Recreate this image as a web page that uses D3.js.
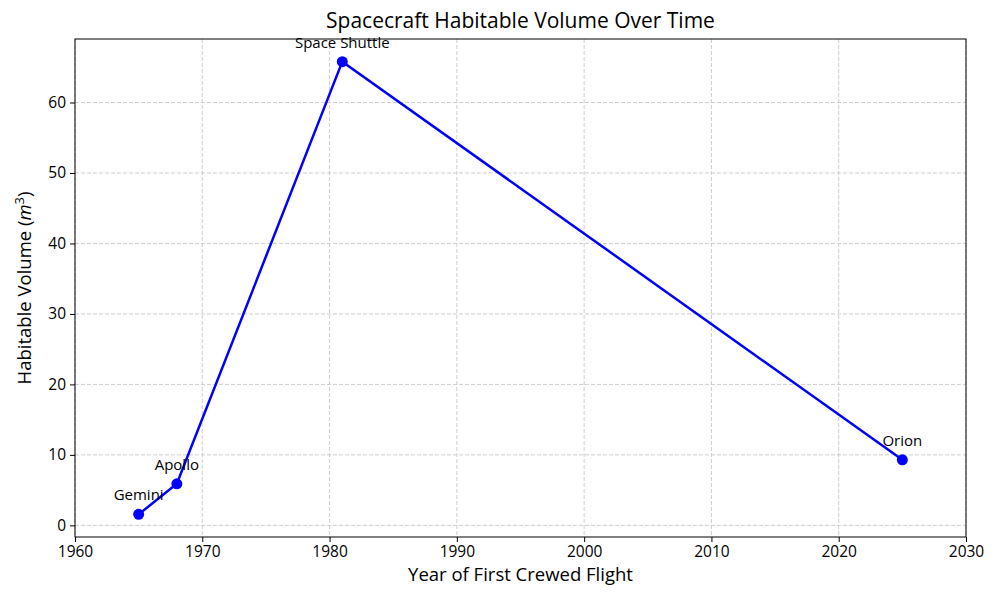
<!DOCTYPE html>
<html>
<head>
<meta charset="utf-8">
<script src="https://cdn.jsdelivr.net/npm/d3@7"></script>
<style>
  body { margin: 0; background: #fff; }
  text { font-family: 'Open Sans', sans-serif; fill: #000; }
</style>
</head>
<body>
<script>
var craft = ['Gemini', 'Apollo', 'Space Shuttle', 'Orion']
var years = [1965, 1968, 1981, 2025]
var volumes = [1.56, 5.9, 65.8, 9.3]
var xTicks = [1960, 1970, 1980, 1990, 2000, 2010, 2020, 2030]
var yTicks = [0, 10, 20, 30, 40, 50, 60]

var width = 1000
var height = 600
var margin = {left: 75, right: 34, top: 39, bottom: 63}

var data = craft.map(function (d, i) {
	return {name: d, year: years[i], vol: volumes[i]}
})

var svg = d3.select('body').append('svg')
    .attr('width', width)
    .attr('height', height)

var x = d3.scaleLinear()
    .domain([1960, 2030])
    .range([margin.left, width - margin.right])

var yMin = d3.min(volumes), yMax = d3.max(volumes)
var pad = (yMax - yMin) * 0.05
var y = d3.scaleLinear()
    .domain([yMin - pad, yMax + pad])
    .range([height - margin.bottom, margin.top])

// grid
svg.append('g').selectAll('line')
    .data(xTicks)
  .enter().append('line')
    .attr('x1', function (d) {return x(d)})
    .attr('x2', function (d) {return x(d)})
    .attr('y1', margin.top)
    .attr('y2', height - margin.bottom)
    .style('stroke', '#c8c8c8')
    .style('stroke-width', 0.9)
    .style('stroke-dasharray', '4,2')

svg.append('g').selectAll('line')
    .data(yTicks)
  .enter().append('line')
    .attr('x1', margin.left)
    .attr('x2', width - margin.right)
    .attr('y1', function (d) {return y(d)})
    .attr('y2', function (d) {return y(d)})
    .style('stroke', '#c8c8c8')
    .style('stroke-width', 0.9)
    .style('stroke-dasharray', '4,2')

// axes
var xAxis = svg.append('g')
    .attr('transform', 'translate(0,' + (height - margin.bottom) + ')')
    .call(d3.axisBottom(x).tickValues(xTicks).tickFormat(d3.format('d')).tickSize(5).tickPadding(4))
var yAxis = svg.append('g')
    .attr('transform', 'translate(' + margin.left + ',0)')
    .call(d3.axisLeft(y).tickValues(yTicks).tickSize(5).tickPadding(4))

;[xAxis, yAxis].forEach(function (g) {
	g.select('.domain').remove()
	g.selectAll('line').style('stroke', '#000').style('stroke-width', 1)
	g.selectAll('text').style('font-size', '15.5px').style('font-family', "'Open Sans', sans-serif")
})

svg.append('rect')
    .attr('x', margin.left)
    .attr('y', margin.top)
    .attr('width', width - margin.left - margin.right)
    .attr('height', height - margin.top - margin.bottom)
    .style('fill', 'none')
    .style('stroke', '#000')
    .style('stroke-width', 1)

// line and points
var line = d3.line()
    .x(function (d) {return x(d.year)})
    .y(function (d) {return y(d.vol)})

svg.append('path')
    .datum(data)
    .attr('d', line)
    .style('fill', 'none')
    .style('stroke', '#0000ff')
    .style('stroke-width', 2.5)

svg.selectAll('circle')
    .data(data)
  .enter().append('circle')
    .attr('cx', function (d) {return x(d.year)})
    .attr('cy', function (d) {return y(d.vol)})
    .attr('r', 5.5)
    .style('fill', '#0000ff')

svg.selectAll('.lbl')
    .data(data)
  .enter().append('text')
    .attr('class', 'lbl')
    .attr('x', function (d) {return x(d.year)})
    .attr('y', function (d) {return y(d.vol) - 14})
    .attr('text-anchor', 'middle')
    .style('font-size', '15px')
    .text(function (d) {return d.name})

// titles
svg.append('text')
    .attr('x', (margin.left + width - margin.right) / 2)
    .attr('y', 28)
    .attr('text-anchor', 'middle')
    .style('font-size', '21px')
    .text('Spacecraft Habitable Volume Over Time')

svg.append('text')
    .attr('x', (margin.left + width - margin.right) / 2)
    .attr('y', 581)
    .attr('text-anchor', 'middle')
    .style('font-size', '18.5px')
    .text('Year of First Crewed Flight')

var yl = svg.append('text')
    .attr('transform', 'translate(31,' + ((margin.top + height - margin.bottom) / 2) + ') rotate(-90)')
    .attr('text-anchor', 'middle')
    .style('font-size', '18.5px')
yl.append('tspan').text('Habitable Volume (')
yl.append('tspan').style('font-style', 'italic').text('m')
yl.append('tspan').attr('dy', -7).style('font-size', '13px').text('3')
yl.append('tspan').attr('dy', 7).text(')')
</script>
</body>
</html>
